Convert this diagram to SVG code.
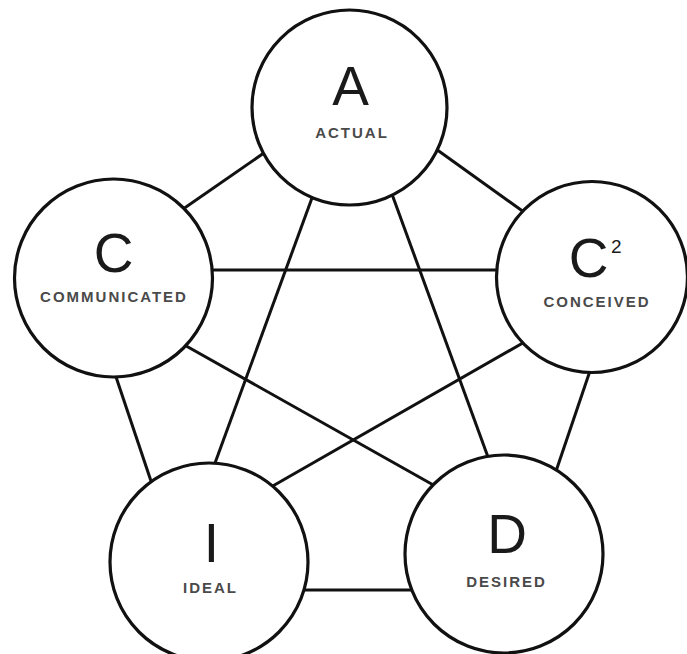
<svg xmlns="http://www.w3.org/2000/svg" width="687" height="654" viewBox="0 0 687 654">
<style>
.edge{stroke:#111;stroke-width:3;fill:none;stroke-linecap:butt}
.node{fill:#fff;stroke:#111;stroke-width:3.2}
.big{font-family:"Liberation Sans",Arial,sans-serif;font-size:55px;fill:#1a1a1a;text-anchor:middle}
.sup{font-family:"Liberation Sans",Arial,sans-serif;font-size:19px;fill:#1a1a1a}
.lbl{font-family:"Liberation Sans",Arial,sans-serif;font-size:15px;font-weight:bold;fill:#4a4a4a;letter-spacing:2px;text-anchor:middle}
</style>
<rect width="687" height="654" fill="#fff"/>
<g id="connectors">
<line class="edge" x1="274" y1="146" x2="173" y2="216"/>
<line class="edge" x1="429" y1="144" x2="535" y2="220"/>
<line class="edge" x1="112" y1="365" x2="154" y2="490"/>
<line class="edge" x1="592" y1="365" x2="553" y2="480"/>
<line class="edge" x1="295" y1="590" x2="420" y2="590"/>
<line class="edge" x1="316" y1="187" x2="211" y2="474"/>
<line class="edge" x1="389" y1="186" x2="492" y2="468"/>
<line class="edge" x1="200" y1="270" x2="510" y2="270"/>
<line class="edge" x1="172" y1="338" x2="444" y2="491"/>
<line class="edge" x1="535" y1="336" x2="264" y2="491"/>
</g>
<g id="node-A">
<circle class="node" cx="349.5" cy="107.5" r="97.5"/>
<text class="big" x="350.5" y="105">A</text>
<text class="lbl" x="352" y="138">ACTUAL</text>
</g>
<g id="node-C">
<circle class="node" cx="113.5" cy="278" r="99"/>
<text class="big" x="113.5" y="272">C</text>
<text class="lbl" x="114" y="302">COMMUNICATED</text>
</g>
<g id="node-C2">
<circle class="node" cx="592" cy="277" r="95.5"/>
<text class="big" x="588.5" y="277">C</text>
<text class="sup" x="611" y="253">2</text>
<text class="lbl" x="597" y="307">CONCEIVED</text>
</g>
<g id="node-I">
<circle class="node" cx="209" cy="562" r="99"/>
<text class="big" x="211.5" y="562">I</text>
<text class="lbl" x="210.5" y="593">IDEAL</text>
</g>
<g id="node-D">
<circle class="node" cx="504" cy="554" r="99"/>
<text class="big" x="507" y="553">D</text>
<text class="lbl" x="506.5" y="587">DESIRED</text>
</g>
</svg>
